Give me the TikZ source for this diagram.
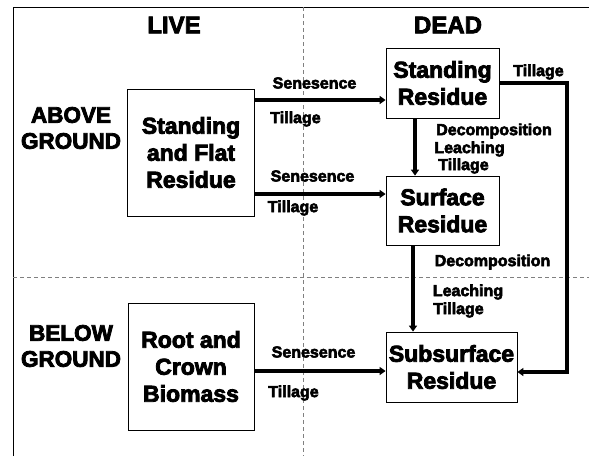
\documentclass[tikz,border=0pt]{standalone}
\usepackage{fontspec}
\setmainfont{Liberation Sans}[BoldFont={Liberation Sans Bold}, BoldFeatures={FakeBold=3.5}]
\usetikzlibrary{arrows.meta}

\begin{document}
\begin{tikzpicture}[x=1pt, y=-1pt, font=\bfseries]
  \tikzstyle{pool}=[draw, line width=0.8pt, align=center, inner sep=0pt,
                    font=\fontsize{23}{27}\selectfont\bfseries]
  \tikzstyle{zone}=[align=center, inner sep=0pt, font=\fontsize{22.5}{26}\selectfont\bfseries]
  \tikzstyle{head}=[inner sep=0pt, font=\fontsize{24}{26}\selectfont\bfseries]
  \tikzstyle{lbl}=[inner sep=0pt, font=\fontsize{16}{17}\selectfont\bfseries]
  \tikzstyle{flow}=[line width=3.4pt, -{Triangle[length=6pt,width=8pt]}]
  \tikzstyle{split}=[gray, line width=0.7pt, dash pattern=on 4pt off 3pt]
  \useasboundingbox (0,0) rectangle (589,456);
  % frame and the four quarters
  \draw[line width=1pt] (13,456) -- (13,7) -- (589,7);
  \draw[split] (303,7) -- (303,456);
  \draw[split] (13,277) -- (589,277);
  \node[head] (live) at (174,25) {LIVE};
  \node[head] (dead) at (448,25) {DEAD};
  \node[zone] (above) at (71,128) {ABOVE\\GROUND};
  \node[zone] (below) at (71,346) {BELOW\\GROUND};
  % pools
  \node[pool, minimum width=127pt, minimum height=127pt] (flat) at (191,152.5)
       {Standing\\and Flat\\Residue};
  \node[pool, minimum width=126pt, minimum height=127pt] (root) at (191,366.5)
       {Root and\\Crown\\Biomass};
  \node[pool, minimum width=113pt, minimum height=70pt] (standres) at (442.5,83)
       {Standing\\Residue};
  \node[pool, minimum width=113pt, minimum height=69pt] (surfres) at (442.5,210.5)
       {Surface\\Residue};
  \node[pool, minimum width=131pt, minimum height=70pt] (subres) at (451.5,367)
       {Subsurface\\Residue};
  % transfers
  \draw[flow] (flat.east |- 0,100) -- (standres.west |- 0,100);
  \draw[flow] (flat.east |- 0,194) -- (surfres.west |- 0,194);
  \draw[flow] (root.east |- 0,371) -- (subres.west |- 0,371);
  \draw[flow] (standres.south -| 415,0) -- (surfres.north -| 415,0);
  \draw[flow] (surfres.south -| 413,0) -- (subres.north -| 413,0);
  \coordinate (turn) at (567,83);
  \draw[flow] (standres.east |- turn) -- (turn) -- (turn |- 0,372)
              -- (subres.east |- 0,372);
  % labels
  \node[lbl] (sen1) at (314.5,83) {Senesence};
  \node[lbl] (til1) at (295.5,119) {Tillage};
  \node[lbl] (sen2) at (312.5,176) {Senesence};
  \node[lbl] (til2) at (293,208) {Tillage};
  \node[lbl] (sen3) at (313.5,352) {Senesence};
  \node[lbl] (til3) at (293.5,393) {Tillage};
  \node[lbl] (dec1) at (494,131) {Decomposition};
  \node[lbl] (lea1) at (469.5,149) {Leaching};
  \node[lbl] (til4) at (463.5,166) {Tillage};
  \node[lbl] (dec2) at (492.5,262) {Decomposition};
  \node[lbl] (lea2) at (468,292) {Leaching};
  \node[lbl] (til5) at (458.5,310) {Tillage};
  \node[lbl] (til6) at (538.5,72) {Tillage};
\end{tikzpicture}
\end{document}
